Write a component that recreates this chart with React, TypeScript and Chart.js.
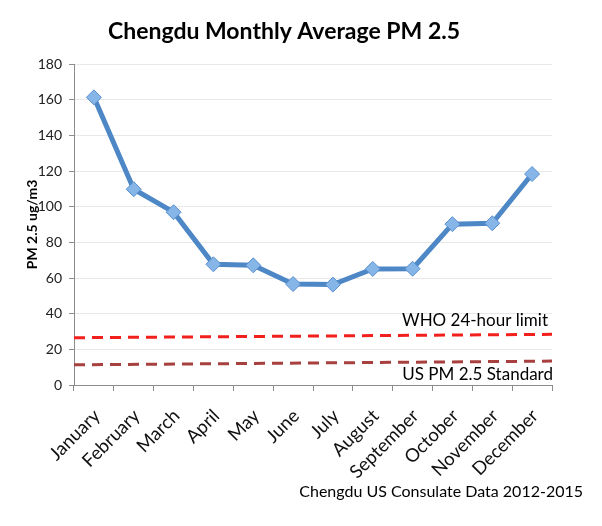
import { useEffect, useRef } from "react";
import { Chart, registerables } from "chart.js";

Chart.register(...registerables);

const FONT = "Lato, 'Open Sans', sans-serif";

const months = [
  "January",
  "February",
  "March",
  "April",
  "May",
  "June",
  "July",
  "August",
  "September",
  "October",
  "November",
  "December",
];

// Monthly average PM 2.5 (ug/m3)
const pm25 = [161.3, 109.8, 96.9, 67.7, 67.1, 56.6, 56.3, 65.1, 65.2, 90.2, 90.7, 118.3];

// Reference lines, value at the left and right edge of the plot
const whoLimit = [26.5, 28.4];
const usStandard = [11.3, 13.4];

const yMin = 0;
const yMax = 180;
const yStep = 20;

const title = "Chengdu Monthly Average PM 2.5";
const yTitle = "PM 2.5 ug/m3";
const whoLabel = "WHO 24-hour limit";
const usLabel = "US PM 2.5 Standard";
const source = "Chengdu US Consulate Data 2012-2015";

const textPlugin = {
  id: "chartTexts",
  afterDraw(chart: any) {
    const { ctx, chartArea, scales } = chart;
    const y = scales.y;
    ctx.save();
    ctx.fillStyle = "#000";
    ctx.textBaseline = "middle";

    ctx.font = `bold 23px ${FONT}`;
    ctx.textAlign = "center";
    ctx.fillText(title, 284, 32);

    ctx.font = `17px ${FONT}`;
    ctx.textAlign = "right";
    ctx.fillText(whoLabel, chartArea.right - 4, y.getPixelForValue(36));
    ctx.fillText(usLabel, chartArea.right + 1, y.getPixelForValue(5.6));

    ctx.font = `16px ${FONT}`;
    ctx.fillText(source, 583, 492);
    ctx.restore();
  },
};

export default function App() {
  const canvasRef = useRef<HTMLCanvasElement | null>(null);

  useEffect(() => {
    const canvas = canvasRef.current;
    if (!canvas) return;
    const chart = new Chart(canvas, {
      type: "line",
      data: {
        labels: months,
        datasets: [
          {
            label: "PM 2.5",
            data: pm25,
            xAxisID: "x",
            borderColor: "#4d87c6",
            borderWidth: 5,
            pointStyle: "rectRot",
            pointRadius: 7.5,
            pointBackgroundColor: "#86b5e8",
            pointBorderColor: "#5a8fcf",
            pointBorderWidth: 1,
            tension: 0,
            order: 0,
          },
          {
            label: whoLabel,
            data: [
              { x: 0, y: whoLimit[0] },
              { x: 12, y: whoLimit[1] },
            ],
            xAxisID: "x2",
            borderColor: "#f2201c",
            borderWidth: 3,
            borderDash: [11, 7],
            pointRadius: 0,
            order: 1,
          },
          {
            label: usLabel,
            data: [
              { x: 0, y: usStandard[0] },
              { x: 12, y: usStandard[1] },
            ],
            xAxisID: "x2",
            borderColor: "#a8403f",
            borderWidth: 3,
            borderDash: [11, 7],
            pointRadius: 0,
            order: 2,
          },
        ],
      },
      options: {
        responsive: false,
        animation: false,
        layout: { padding: { top: 64, right: 50, left: 0, bottom: 0 } },
        plugins: {
          legend: { display: false },
          tooltip: { enabled: false },
          title: { display: false },
        },
        scales: {
          x: {
            type: "category",
            offset: true,
            grid: {
              offset: true,
              drawOnChartArea: false,
              drawTicks: true,
              tickLength: 6,
              tickColor: "#8c8c8c",
            },
            border: { color: "#8c8c8c", width: 1 },
            ticks: {
              minRotation: 45,
              maxRotation: 45,
              autoSkip: false,
              padding: 14,
              labelOffset: 3,
              color: "#111",
              font: { family: FONT, size: 18.5 },
            },
            afterFit: (s: any) => {
              s.height = 141;
            },
          },
          x2: {
            type: "linear",
            display: false,
            min: 0,
            max: 12,
          },
          y: {
            min: yMin,
            max: yMax,
            ticks: {
              stepSize: yStep,
              padding: 7,
              color: "#222",
              font: { family: FONT, size: 14 },
            },
            grid: {
              color: "#e8e8e8",
              tickLength: 5,
              tickColor: "#8c8c8c",
            },
            border: { color: "#8c8c8c", width: 1 },
            title: {
              display: true,
              text: yTitle,
              color: "#000",
              padding: { top: 24, bottom: 0 },
              font: { family: FONT, size: 14, weight: "bold" },
            },
            afterFit: (s: any) => {
              s.width = 74;
            },
          },
        },
      },
      plugins: [textPlugin],
    } as any);
    return () => chart.destroy();
  }, []);

  return (
    <div style={{ position: "fixed", left: 0, top: 0, width: 602, height: 526, background: "#fff" }}>
      <canvas ref={canvasRef} width={602} height={526} style={{ display: "block" }} />
    </div>
  );
}
